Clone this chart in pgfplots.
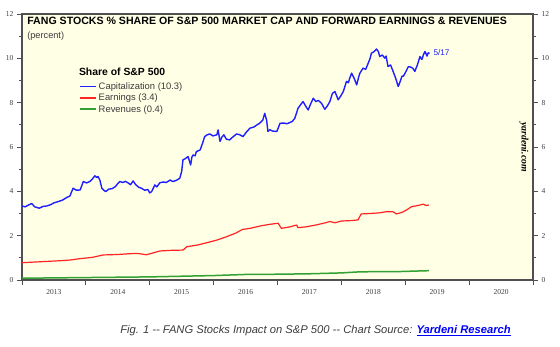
\documentclass[border=0pt]{standalone}
\usepackage{pgfplots}
\pgfplotsset{compat=1.18}
\usepackage{fontspec}
\setmainfont{Liberation Sans}
\newfontfamily\tickfont{Liberation Serif}
\definecolor{bgyellow}{RGB}{255,255,230}
\definecolor{axgray}{RGB}{80,80,80}
\definecolor{capblue}{RGB}{30,30,255}
\definecolor{erred}{RGB}{255,35,35}
\definecolor{revgreen}{RGB}{50,160,50}
\definecolor{labgray}{RGB}{60,60,60}
\begin{document}
\begin{tikzpicture}
\useasboundingbox (-22pt,-67pt) rectangle (538pt,280pt);
\begin{axis}[
  name=main,
  at={(0pt,0pt)}, anchor=south west,
  scale only axis, width=511pt, height=266pt,
  xmin=2013, xmax=2021, ymin=0, ymax=12,
  axis background/.style={fill=bgyellow},
  axis line style={axgray, line width=1.3pt},
  xtick={2013,...,2021},
  xticklabels={2013,2014,2015,2016,2017,2018,2019,2020},
  x tick label as interval,
  xtick pos=bottom,
  ytick={0,2,...,12}, minor ytick={1,3,...,11},
  ytick pos=both,
  tick align=outside,
  major tick length=5pt, minor tick length=3pt,
  tick style={axgray, line width=0.8pt},
  /pgf/number format/assume math mode=true,
  tick label style={font=\tickfont\fontsize{7.5}{9}\selectfont, text=labgray},
  xticklabel style={yshift=-1pt},
  legend style={draw=none, fill=none, at={(axis cs:2013.89,9.0)}, anchor=north west,
    font=\fontsize{9.4}{10}\selectfont, text=labgray, row sep=-1pt, inner sep=0pt,
    cells={anchor=west}},
  legend image code/.code={\draw[#1, line width=1.7pt] (0pt,0.3pt) -- (16pt,0.3pt);},
]
\addplot[capblue, line width=1.4pt, line join=round] coordinates {
(2013.00,3.34)(2013.05,3.30)(2013.10,3.38)(2013.15,3.45)(2013.20,3.30)(2013.27,3.24)
(2013.33,3.32)(2013.39,3.34)(2013.45,3.40)(2013.50,3.48)(2013.57,3.54)(2013.63,3.60)
(2013.70,3.72)(2013.75,3.79)(2013.80,4.14)(2013.85,4.05)(2013.91,4.06)(2013.96,4.44)
(2014.01,4.38)(2014.06,4.44)(2014.10,4.55)(2014.14,4.70)(2014.17,4.62)(2014.19,4.67)
(2014.22,4.50)(2014.25,4.14)(2014.28,4.05)(2014.31,3.99)(2014.36,4.10)(2014.41,4.12)
(2014.46,4.21)(2014.50,4.35)(2014.53,4.44)(2014.58,4.40)(2014.62,4.45)(2014.66,4.38)
(2014.70,4.30)(2014.74,4.47)(2014.78,4.30)(2014.83,4.18)(2014.87,4.14)(2014.92,4.05)
(2014.97,4.08)(2015.00,3.93)(2015.03,3.99)(2015.08,4.29)(2015.11,4.20)(2015.16,4.39)
(2015.21,4.42)(2015.26,4.40)(2015.32,4.51)(2015.36,4.44)(2015.42,4.50)(2015.47,4.59)
(2015.50,4.90)(2015.52,5.42)(2015.56,5.48)(2015.60,5.57)(2015.64,5.19)(2015.66,5.55)
(2015.68,5.64)(2015.71,5.60)(2015.73,5.79)(2015.79,5.87)(2015.83,6.20)(2015.86,6.47)
(2015.90,6.55)(2015.94,6.59)(2015.99,6.50)(2016.05,6.55)(2016.07,6.77)(2016.10,6.25)
(2016.13,6.45)(2016.16,6.55)(2016.20,6.35)(2016.25,6.32)(2016.30,6.45)(2016.36,6.59)
(2016.41,6.55)(2016.46,6.47)(2016.52,6.70)(2016.57,6.85)(2016.63,6.90)(2016.68,7.00)
(2016.72,7.07)(2016.77,7.22)(2016.80,7.52)(2016.83,7.20)(2016.85,6.70)(2016.88,6.78)
(2016.92,6.72)(2016.99,6.70)(2017.04,7.07)(2017.10,7.08)(2017.15,7.05)(2017.19,7.10)
(2017.23,7.15)(2017.27,7.29)(2017.30,7.55)(2017.32,7.74)(2017.36,7.90)(2017.40,8.05)
(2017.44,7.85)(2017.48,7.67)(2017.52,7.95)(2017.56,8.20)(2017.60,8.05)(2017.64,8.10)
(2017.69,7.97)(2017.74,7.70)(2017.78,7.85)(2017.82,8.05)(2017.86,8.42)(2017.90,8.50)
(2017.95,8.13)(2017.99,8.30)(2018.03,8.50)(2018.08,8.96)(2018.11,8.90)(2018.13,9.10)
(2018.16,9.33)(2018.20,9.10)(2018.24,8.80)(2018.27,9.15)(2018.29,9.33)(2018.34,9.56)
(2018.38,9.50)(2018.42,9.78)(2018.45,10.00)(2018.47,10.23)(2018.51,10.30)(2018.55,10.42)
(2018.58,10.30)(2018.60,10.08)(2018.64,10.15)(2018.68,10.01)(2018.70,10.10)(2018.73,9.63)
(2018.77,9.70)(2018.81,9.41)(2018.85,9.10)(2018.89,8.73)(2018.92,8.95)(2018.95,9.20)
(2018.97,9.19)(2019.01,9.40)(2019.05,9.63)(2019.09,9.60)(2019.12,9.55)(2019.15,9.41)
(2019.19,9.70)(2019.23,10.08)(2019.26,9.95)(2019.29,10.20)(2019.31,10.31)(2019.34,10.10)
(2019.36,10.25)(2019.38,10.22)
};
\addlegendentry{Capitalization (10.3)}
\addplot[erred, line width=1.2pt, line join=round] coordinates {
(2013.00,0.78)(2013.20,0.81)(2013.40,0.84)(2013.60,0.87)(2013.75,0.90)(2013.90,0.96)
(2014.10,1.02)(2014.27,1.13)(2014.50,1.15)(2014.65,1.18)(2014.80,1.20)(2014.95,1.14)
(2015.00,1.18)(2015.16,1.31)(2015.35,1.34)(2015.52,1.35)(2015.58,1.50)(2015.75,1.58)
(2015.89,1.68)(2016.05,1.80)(2016.20,1.95)(2016.35,2.12)(2016.45,2.28)(2016.57,2.33)
(2016.75,2.45)(2016.90,2.52)(2017.01,2.56)(2017.06,2.33)(2017.20,2.40)(2017.30,2.48)
(2017.32,2.36)(2017.45,2.40)(2017.60,2.48)(2017.75,2.58)(2017.82,2.64)(2017.90,2.58)
(2018.00,2.66)(2018.15,2.68)(2018.26,2.71)(2018.31,2.98)(2018.45,3.00)(2018.60,3.03)
(2018.70,3.08)(2018.81,3.08)(2018.86,2.98)(2018.95,3.05)(2019.02,3.16)(2019.10,3.31)
(2019.20,3.36)(2019.28,3.42)(2019.33,3.36)(2019.37,3.38)
};
\addlegendentry{Earnings (3.4)}
\addplot[revgreen, line width=1.5pt] coordinates {
(2013.0,0.08)(2014.0,0.11)(2015.0,0.14)(2016.0,0.20)(2016.5,0.25)(2017.0,0.26)
(2017.5,0.28)(2018.0,0.32)(2018.3,0.37)(2018.9,0.38)(2019.37,0.42)
};
\addlegendentry{Revenues (0.4)}
\node[anchor=north west, font=\bfseries\fontsize{10.6}{12}\selectfont, inner sep=0pt]
  at (axis cs:2013.08,11.85) {FANG STOCKS \% SHARE OF S\&P 500 MARKET CAP AND FORWARD EARNINGS \& REVENUES};
\node[anchor=north west, font=\fontsize{9.2}{10}\selectfont, text=labgray, inner sep=0pt]
  at (axis cs:2013.08,11.2) {(percent)};
\node[anchor=west, font=\bfseries\fontsize{10.4}{12}\selectfont, inner sep=0pt]
  at (axis cs:2013.89,9.39) {Share of S\&P 500};
\node[anchor=west, font=\fontsize{8.2}{9}\selectfont, text=capblue, inner sep=0pt]
  at (axis cs:2019.44,10.25) {5/17};
\node[rotate=-90, font=\tickfont\bfseries\itshape\fontsize{9.8}{11}\selectfont, inner sep=0pt]
  at (axis cs:2020.86,6.0) {yardeni.com};
\end{axis}
\begin{axis}[
  at={(0pt,0pt)}, anchor=south west,
  scale only axis, width=511pt, height=266pt,
  xmin=2013, xmax=2021, ymin=0, ymax=12,
  axis x line=none,
  axis y line*=right,
  axis line style={axgray, line width=1.3pt},
  ytick={0,2,...,12}, minor ytick={1,3,...,11},
  tick align=outside,
  major tick length=5pt, minor tick length=3pt,
  tick style={axgray, line width=0.8pt},
  /pgf/number format/assume math mode=true,
  tick label style={font=\tickfont\fontsize{7.5}{9}\selectfont, text=labgray},
]
\end{axis}
\node[font=\itshape\fontsize{11.2}{13}\selectfont, text=labgray] at (293.5pt,-51pt)
  {Fig. 1 {-}{-} FANG Stocks Impact on S\&P 500 {-}{-} Chart Source: \textcolor{blue}{\bfseries\underline{Yardeni Research}}};
\end{tikzpicture}
\end{document}
